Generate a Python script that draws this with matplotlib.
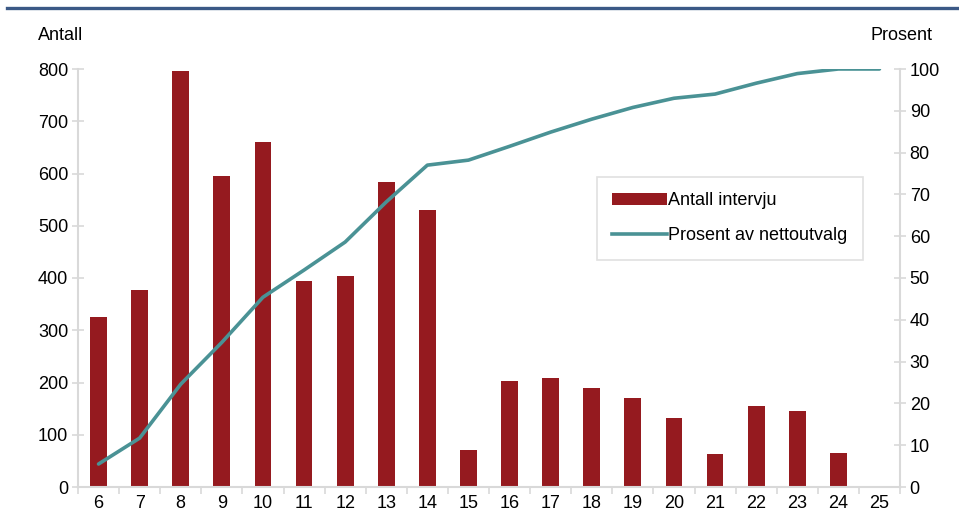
import matplotlib
matplotlib.use("Agg")
import matplotlib.pyplot as plt
from matplotlib.lines import Line2D
from matplotlib.patches import Patch
import numpy as np

plt.rcParams['font.family'] = ['Liberation Sans', 'DejaVu Sans']

categories = [str(c) for c in range(6, 26)]
antall = [325, 377, 796, 595, 660, 394, 404, 584, 530, 71,
          203, 209, 189, 170, 132, 63, 155, 145, 65, 1]
prosent = [5.5, 11.7, 24.6, 34.6, 45.4, 51.9, 58.6, 68.2, 77.0, 78.2,
           81.5, 84.9, 88.0, 90.8, 93.0, 94.0, 96.6, 98.9, 100.0, 100.0]

bar_color = '#951A1F'
line_color = '#4A9295'
grid_color = '#D9D9D9'
fs = 13

W, H = 959, 531
fig = plt.figure(figsize=(W / 100, H / 100), dpi=100)
ax = fig.add_axes([78 / W, 1 - 487 / H, (900 - 78) / W, (487 - 69) / H])
ax2 = ax.twinx()

x = np.arange(len(categories))
ax.bar(x, antall, width=0.41, color=bar_color, zorder=2)
ax2.plot(x, prosent, color=line_color, lw=2.6, solid_capstyle='round', zorder=3)

ax.set_xlim(-0.5, len(categories) - 0.5)
ax.set_ylim(0, 800)
ax2.set_ylim(0, 100)
ax.set_yticks(range(0, 801, 100))
ax2.set_yticks(range(0, 101, 10))
ax.set_xticks(x)
ax.set_xticklabels(categories)
ax.set_xticks(np.arange(-0.5, len(categories), 1), minor=True)

for a in (ax, ax2):
    for s in a.spines.values():
        s.set_color(grid_color)
        s.set_linewidth(1.5)
    a.spines['top'].set_visible(False)
ax.spines['right'].set_visible(False)
ax2.spines['left'].set_visible(False)
ax2.spines['bottom'].set_visible(False)

ax.tick_params(axis='y', direction='inout', length=8, width=1.2, color=grid_color,
               labelsize=fs, labelcolor='black', pad=3)
ax2.tick_params(axis='y', direction='inout', length=8, width=1.2, color=grid_color,
                labelsize=fs, labelcolor='black', pad=3)
ax.tick_params(axis='x', which='major', length=0, labelsize=fs, pad=6)
ax.tick_params(axis='x', which='minor', direction='out', length=5, width=1.2, color=grid_color)

fig.text(38 / W, 1 - 36 / H, 'Antall', fontsize=fs, va='center', ha='left')
fig.text(933 / W, 1 - 36 / H, 'Prosent', fontsize=fs, va='center', ha='right')

# top rule
fig.add_artist(Line2D([7 / W, 1.0], [1 - 7.5 / H, 1 - 7.5 / H], color='#3B5986', lw=2.4,
                      transform=fig.transFigure))

handles = [Patch(facecolor=bar_color, edgecolor='none'),
           Line2D([0], [0], color=line_color, lw=2.6)]
leg = ax2.legend(handles, ['Antall intervju', 'Prosent av nettoutvalg'],
                 loc='upper left', bbox_to_anchor=((597 - 78) / (900 - 78), (487 - 177) / (487 - 69)),
                 fontsize=13, frameon=True, fancybox=False, edgecolor=grid_color,
                 handlelength=3.0, handleheight=0.6, handletextpad=0.1,
                 borderpad=0.85, labelspacing=1.0, borderaxespad=0)
leg.get_frame().set_linewidth(1.2)

fig.savefig('out.png', dpi=100)
